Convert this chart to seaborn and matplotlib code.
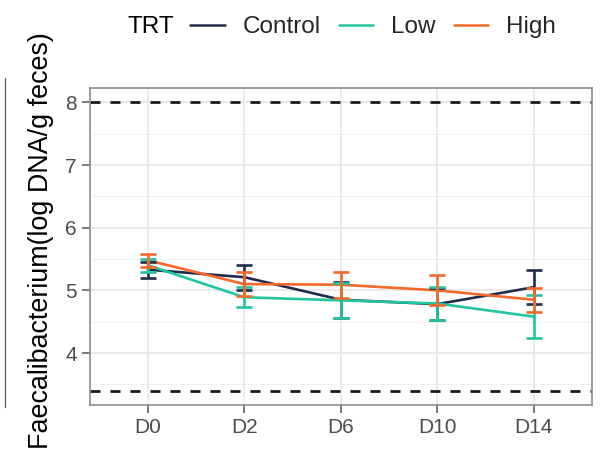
import numpy as np
import pandas as pd
import seaborn as sns
import matplotlib
matplotlib.use("Agg")
import matplotlib.pyplot as plt
from matplotlib.lines import Line2D

# Sampling days and treatment groups
days = ["D0", "D2", "D6", "D10", "D14"]
groups = ["Control", "Low", "High"]

# Group means (log DNA / g feces) and error half-widths
control_mean = [5.33, 5.21, 4.85, 4.78, 5.05]
control_err = [0.13, 0.20, 0.29, 0.26, 0.27]
low_mean = [5.40, 4.89, 4.84, 4.79, 4.58]
low_err = [0.10, 0.16, 0.28, 0.27, 0.34]
high_mean = [5.48, 5.10, 5.09, 5.00, 4.85]
high_err = [0.10, 0.19, 0.21, 0.24, 0.19]

# Reference limits shown as dashed lines
upper_limit = 8.0
lower_limit = 3.4

colors = {"Control": "#1e2d4d", "Low": "#21c6a1", "High": "#f4692a"}

df = pd.DataFrame({
    "Day": days * 3,
    "TRT": np.repeat(groups, len(days)),
    "value": control_mean + low_mean + high_mean,
    "err": control_err + low_err + high_err,
})
df["x"] = df["Day"].map({d: i for i, d in enumerate(days)})

sns.set_theme(style="white")
plt.rcParams["font.family"] = ["Liberation Sans", "DejaVu Sans"]

fig = plt.figure(figsize=(6.03, 4.55), dpi=100)
ax = fig.add_axes([90 / 603, 1 - 405 / 455, (591.7 - 90) / 603, (405 - 88) / 455])

# grid
for y in [4, 5, 6, 7, 8]:
    ax.axhline(y, color="#e6e6e6", lw=1.2, zorder=0)
for y in [3.5, 4.5, 5.5, 6.5, 7.5]:
    ax.axhline(y, color="#f0f0f0", lw=0.7, zorder=0)
for x in range(len(days)):
    ax.axvline(x, color="#e6e6e6", lw=1.2, zorder=0)

ax.axhline(upper_limit, color="#1a1a1a", lw=2.0, ls=(0, (3.6, 3.6)), zorder=1)
ax.axhline(lower_limit, color="#1a1a1a", lw=2.0, ls=(0, (3.6, 3.6)), zorder=1)

sns.lineplot(data=df, x="x", y="value", hue="TRT", hue_order=groups,
             palette=colors, lw=1.9, ax=ax, legend=False, zorder=3)
for g in groups:
    sub = df[df["TRT"] == g]
    ax.errorbar(sub["x"], sub["value"], yerr=sub["err"], fmt="none",
                ecolor=colors[g], elinewidth=1.9, capsize=5.8, capthick=1.9,
                zorder=4)

ax.set_xlim(-0.6, 4.6)
ax.set_ylim(3.17, 8.23)
ax.set_xticks(range(len(days)))
ax.set_xticklabels(days)
ax.set_yticks([4, 5, 6, 7, 8])
ax.set_xlabel("")
ax.set_ylabel("")
ax.tick_params(axis="both", which="major", length=5.5, width=1.1, color="#555555",
               labelcolor="#4d4d4d", labelsize=15, pad=4, bottom=True, left=True)
for s in ax.spines.values():
    s.set_color("#8c8c8c")
    s.set_linewidth(1.2)

fig.text(41 / 603, 1 - 241 / 455, "Faecalibacterium(log DNA/g feces)",
         rotation=90, ha="center", va="center", fontsize=19.4, color="black")

# legend across the top
fig.text(128 / 603, 1 - 27 / 455, "TRT", ha="left", va="center",
         fontsize=17.5, color="black")
handles = [Line2D([], [], color=colors[g], lw=1.8) for g in groups]
fig.legend(handles, groups, ncol=3, frameon=False, loc="center left",
           bbox_to_anchor=(190 / 603, 1 - 27 / 455), fontsize=17.5,
           handlelength=1.42, handletextpad=0.74, columnspacing=0.74,
           borderpad=0, borderaxespad=0)

# thin rule at the left margin
fig.add_artist(Line2D([5 / 603, 5 / 603], [1 - 407 / 455, 1 - 78 / 455],
                      color="#666666", lw=1.0, transform=fig.transFigure))

fig.savefig("out.png", dpi=100)
